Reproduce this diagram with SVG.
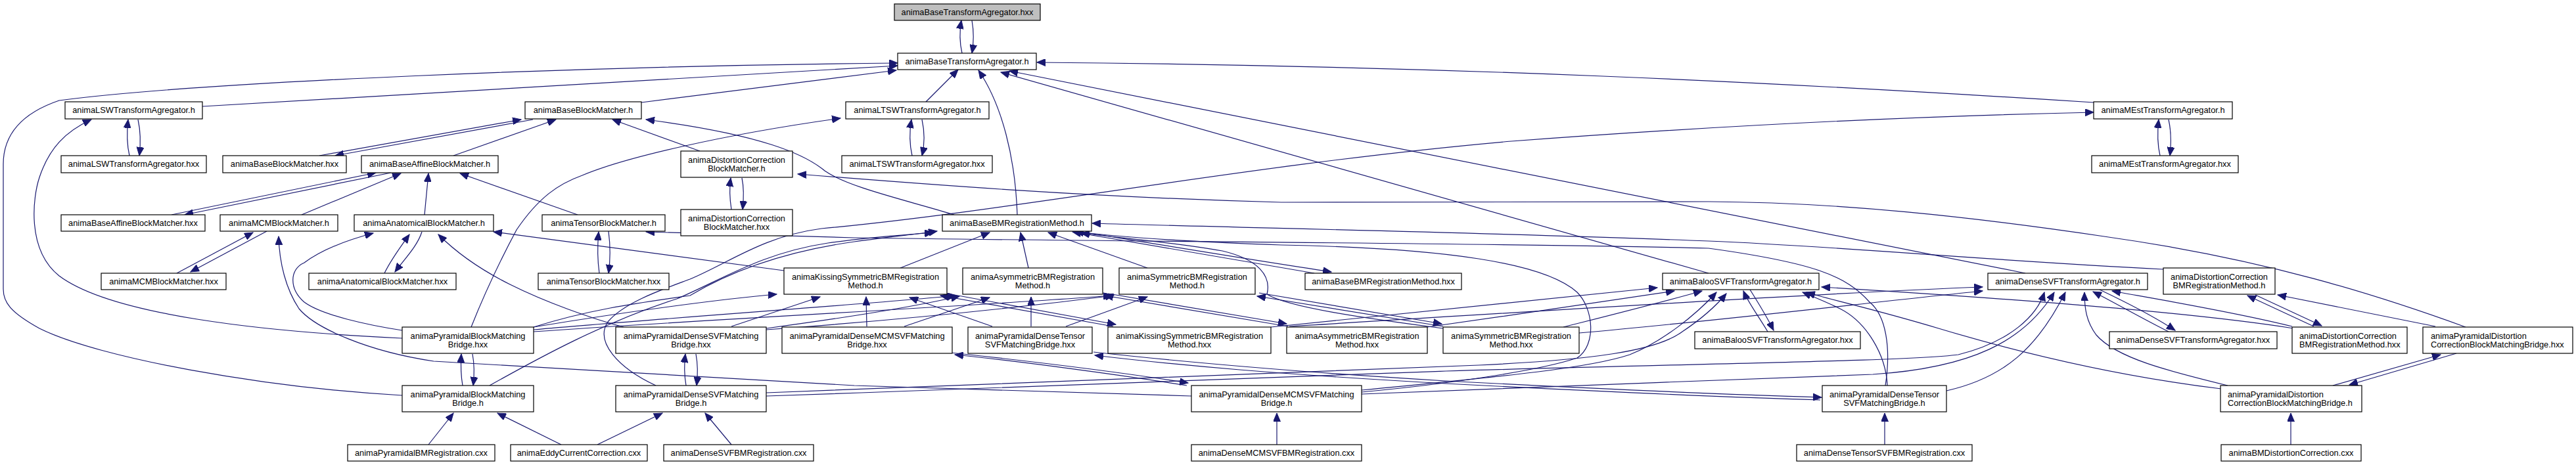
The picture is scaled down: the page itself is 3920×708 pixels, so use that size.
<svg xmlns="http://www.w3.org/2000/svg" width="3920" height="708" viewBox="0 0 3920 708">
<defs>
<marker id="ah" markerWidth="14" markerHeight="11" refX="13" refY="5.5" orient="auto" markerUnits="userSpaceOnUse"><path d="M0,0 L13,5.5 L0,11 z" fill="#191970" stroke="#191970" stroke-width="1"/></marker>
<style>
.e{fill:none;stroke:#191970;stroke-width:1.2;marker-end:url(#ah)}
.n rect{fill:#fff;stroke:#000;stroke-width:1.2}
.n text{font-family:"Liberation Sans",Arial,sans-serif;font-size:12.8px;fill:#000;text-anchor:middle}
.n.root rect{fill:#bfbfbf}
.n.l text{text-anchor:start}
</style>
</defs>
<rect width="3920" height="708" fill="#fff"/>
<g id="edges">
<path class="e" d="M1464,81 C1460,64 1460,48 1463,31"/>
<path class="e" d="M1479,31 C1482,48 1482,64 1479,81"/>
<path class="e" d="M308,162 L1366,100"/>
<path class="e" d="M976,156 L1364,107"/>
<path class="e" d="M1409,155 L1458,106"/>
<path class="e" d="M1548,327 C1545,240 1525,160 1489,107"/>
<path class="e" d="M3186,156 C2700,125 2200,100 1578,95"/>
<path class="e" d="M3082,416 L1536,108"/>
<path class="e" d="M2600,416 L1523,110"/>
<path class="e" d="M612,602 C400,590 150,545 60,500 C15,475 5,460 5,440 L5,250 C5,200 40,170 90,153 C300,125 900,100 1366,96"/>
<path class="e" d="M197,237 C193,220 193,200 195,182"/>
<path class="e" d="M210,182 C214,200 214,220 212,237"/>
<path class="e" d="M612,515 C400,505 170,480 90,420 C40,380 50,300 60,270 C75,225 100,200 139,182"/>
<path class="e" d="M1388,237 C1384,220 1384,200 1387,182"/>
<path class="e" d="M1403,182 C1407,200 1407,220 1403,237"/>
<path class="e" d="M3287,237 C3283,220 3283,200 3285,182"/>
<path class="e" d="M3300,182 C3304,200 3304,220 3302,237"/>
<path class="e" d="M486,237 L793,182"/>
<path class="e" d="M811,182 L510,237"/>
<path class="e" d="M261,327 L572,263"/>
<path class="e" d="M595,263 L281,327"/>
<path class="e" d="M459,327 L610,264"/>
<path class="e" d="M646,327 L652,264"/>
<path class="e" d="M690,237 L846,182"/>
<path class="e" d="M879,327 L700,264"/>
<path class="e" d="M1065,230 L932,182"/>
<path class="e" d="M1452,327 C1380,305 1290,285 1255,260 C1225,235 1160,205 983,182"/>
<path class="e" d="M1113,319 C1110,300 1110,285 1112,271"/>
<path class="e" d="M1129,271 C1132,285 1132,300 1130,319"/>
<path class="e" d="M3752,498 C3620,450 3450,395 3202,360 C3000,330 2800,308 2600,307 L1950,308 C1650,300 1400,280 1214,265"/>
<path class="e" d="M717,498 C740,440 770,380 786,350 C820,300 850,280 886,267 C950,240 1100,205 1279,180"/>
<path class="e" d="M998,587 C940,560 905,520 925,490 C950,460 1010,440 1050,425 C1110,400 1160,360 1250,348 C1550,320 1900,250 2300,215 C2700,185 3000,175 3186,171"/>
<path class="e" d="M585,416 C595,395 610,375 623,357"/>
<path class="e" d="M642,353 C635,375 615,395 601,414"/>
<path class="e" d="M269,416 L385,354"/>
<path class="e" d="M406,352 L290,414"/>
<path class="e" d="M1813,603 C1600,595 1400,590 1300,587 C1000,570 800,560 660,550 C560,535 480,500 455,470 C435,440 425,400 424,360"/>
<path class="e" d="M612,503 C560,495 490,480 463,460 C440,440 440,410 463,400 C490,380 530,365 568,355"/>
<path class="e" d="M912,416 C909,395 909,375 911,353"/>
<path class="e" d="M926,352 C929,375 929,395 926,416"/>
<path class="e" d="M949,498 C900,485 830,460 776,433 C730,410 695,385 667,357"/>
<path class="e" d="M1193,412 L751,353"/>
<path class="e" d="M2869,587 C2878,530 2870,480 2845,460 C2810,420 2760,400 2600,378 C2300,370 1700,368 1300,362 L983,353"/>
<path class="e" d="M2072,597 C2200,585 2340,565 2400,545 C2430,525 2425,470 2400,445 C2350,400 2200,378 1950,373 C1800,368 1700,360 1636,353"/>
<path class="e" d="M2196,500 C2080,485 1960,468 1928,448 C1935,420 1915,395 1860,382 C1780,368 1700,362 1645,355"/>
<path class="e" d="M1370,408 L1506,354"/>
<path class="e" d="M1565,408 L1553,354"/>
<path class="e" d="M1746,408 L1595,354"/>
<path class="e" d="M2000,416 C1850,390 1700,365 1632,353"/>
<path class="e" d="M1640,352 C1750,370 1900,395 2026,414"/>
<path class="e" d="M3292,410 C3000,395 2800,375 2600,367 C2300,355 1900,347 1662,340"/>
<path class="e" d="M812,498 C900,470 980,460 1050,450 C1100,420 1180,385 1300,368 C1360,360 1400,356 1426,352"/>
<path class="e" d="M745,587 C820,545 920,490 1030,455 C1100,425 1160,385 1260,370 C1330,360 1390,357 1420,354"/>
<path class="e" d="M1694,497 L1431,450"/>
<path class="e" d="M1436,446 L1698,494"/>
<path class="e" d="M1960,497 L1681,450"/>
<path class="e" d="M1686,447 L1958,493"/>
<path class="e" d="M2196,497 L1913,451"/>
<path class="e" d="M1916,446 L2194,493"/>
<path class="e" d="M812,498 C950,475 1100,455 1182,448"/>
<path class="e" d="M812,502 C1000,485 1300,465 1455,450"/>
<path class="e" d="M812,505 C1100,485 1500,465 1692,450"/>
<path class="e" d="M1113,497 L1248,452"/>
<path class="e" d="M1166,500 C1300,482 1400,465 1460,451"/>
<path class="e" d="M1166,502 C1400,485 1600,462 1695,450"/>
<path class="e" d="M1319,497 L1318,452"/>
<path class="e" d="M1376,497 L1506,453"/>
<path class="e" d="M1510,497 L1384,453"/>
<path class="e" d="M1569,497 L1569,452"/>
<path class="e" d="M1622,497 L1746,452"/>
<path class="e" d="M1806,587 C1700,570 1550,550 1453,540"/>
<path class="e" d="M1447,537 C1550,548 1700,566 1808,583"/>
<path class="e" d="M2770,609 C2600,604 2450,597 2200,584 C1950,570 1800,557 1666,541"/>
<path class="e" d="M1664,536 C1800,551 1950,565 2200,580 C2450,593 2600,600 2772,605"/>
<path class="e" d="M1044,587 C1041,570 1041,555 1043,539"/>
<path class="e" d="M1059,539 C1062,555 1062,570 1060,587"/>
<path class="e" d="M704,587 C701,570 701,555 702,539"/>
<path class="e" d="M719,539 C722,555 722,570 720,587"/>
<path class="e" d="M652,677 L690,629"/>
<path class="e" d="M854,677 L757,629"/>
<path class="e" d="M909,677 L1008,629"/>
<path class="e" d="M1113,677 L1073,629"/>
<path class="e" d="M1943,677 L1943,629"/>
<path class="e" d="M2868,677 L2868,629"/>
<path class="e" d="M3486,677 L3486,629"/>
<path class="e" d="M3550,587 L3714,540"/>
<path class="e" d="M3738,538 L3575,586"/>
<path class="e" d="M3521,497 L3420,450"/>
<path class="e" d="M3432,449 L3533,496"/>
<path class="e" d="M3706,497 L3466,449"/>
<path class="e" d="M2690,505 C2675,480 2660,460 2653,443"/>
<path class="e" d="M2663,441 C2675,460 2690,485 2699,503"/>
<path class="e" d="M3300,505 C3260,485 3220,462 3185,444"/>
<path class="e" d="M3195,441 C3235,460 3275,480 3310,503"/>
<path class="e" d="M3488,497 C3400,475 3280,455 3214,443"/>
<path class="e" d="M3490,500 C3300,470 2950,448 2772,437"/>
<path class="e" d="M3380,592 C3200,570 3050,530 2950,500 C2850,470 2780,455 2749,445"/>
<path class="e" d="M3390,587 C3300,565 3220,545 3190,510 C3175,490 3172,470 3172,445"/>
<path class="e" d="M2962,595 C3050,575 3100,530 3143,445"/>
<path class="e" d="M2872,587 C2870,540 2840,490 2800,470 C2780,460 2760,452 2743,445"/>
<path class="e" d="M1166,603 L1310,598 C1600,588 1900,575 2200,565 C2600,553 2900,550 2980,540 C3060,520 3100,480 3111,445"/>
<path class="e" d="M2072,600 C2300,590 2600,580 2850,570 C3000,560 3080,520 3126,445"/>
<path class="e" d="M2072,594 C2300,572 2420,560 2480,540 C2530,520 2580,480 2612,445"/>
<path class="e" d="M1166,598 C1600,583 2000,568 2250,556 C2420,548 2520,535 2560,505 C2590,485 2612,465 2627,447"/>
<path class="e" d="M1934,498 C2200,470 2400,450 2522,438"/>
<path class="e" d="M2172,498 C2300,480 2450,458 2548,443"/>
<path class="e" d="M2379,498 C2450,480 2530,460 2590,443"/>
<path class="e" d="M1962,497 C2400,470 2800,445 3017,437"/>
<path class="e" d="M2403,507 C2600,490 2850,460 3017,443"/>
</g>
<g id="n1" class="n root"><rect x="1361" y="6" width="222" height="25"/><text x="1472" y="22.5">animaBaseTransformAgregator.hxx</text></g>
<g id="n2" class="n"><rect x="1366" y="81" width="211" height="25"/><text x="1471.5" y="97.5">animaBaseTransformAgregator.h</text></g>
<g id="n3" class="n"><rect x="99" y="155" width="209" height="26"/><text x="203.5" y="172">animaLSWTransformAgregator.h</text></g>
<g id="n4" class="n"><rect x="799" y="155" width="177" height="26"/><text x="887.5" y="172">animaBaseBlockMatcher.h</text></g>
<g id="n5" class="n"><rect x="1287" y="155" width="218" height="26"/><text x="1396" y="172">animaLTSWTransformAgregator.h</text></g>
<g id="n6" class="n"><rect x="3186" y="155" width="211" height="26"/><text x="3291.5" y="172">animaMEstTransformAgregator.h</text></g>
<g id="n7" class="n"><rect x="93" y="237" width="221" height="26"/><text x="203.5" y="254">animaLSWTransformAgregator.hxx</text></g>
<g id="n8" class="n"><rect x="339" y="237" width="188" height="26"/><text x="433" y="254">animaBaseBlockMatcher.hxx</text></g>
<g id="n9" class="n"><rect x="550" y="237" width="208" height="26"/><text x="654" y="254">animaBaseAffineBlockMatcher.h</text></g>
<g id="n10" class="n"><rect x="1036" y="230" width="170" height="40"/><text x="1121" y="247.5">animaDistortionCorrection</text><text x="1121" y="261">BlockMatcher.h</text></g>
<g id="n11" class="n"><rect x="1281" y="237" width="229" height="26"/><text x="1395.5" y="254">animaLTSWTransformAgregator.hxx</text></g>
<g id="n12" class="n"><rect x="3183" y="237" width="223" height="26"/><text x="3294.5" y="254">animaMEstTransformAgregator.hxx</text></g>
<g id="n13" class="n"><rect x="93" y="327" width="219" height="25"/><text x="202.5" y="343.5">animaBaseAffineBlockMatcher.hxx</text></g>
<g id="n14" class="n"><rect x="335" y="327" width="179" height="25"/><text x="424.5" y="343.5">animaMCMBlockMatcher.h</text></g>
<g id="n15" class="n"><rect x="539" y="327" width="212" height="25"/><text x="645" y="343.5">animaAnatomicalBlockMatcher.h</text></g>
<g id="n16" class="n"><rect x="825" y="327" width="187" height="25"/><text x="918.5" y="343.5">animaTensorBlockMatcher.h</text></g>
<g id="n17" class="n"><rect x="1036" y="319" width="170" height="40"/><text x="1121" y="336.5">animaDistortionCorrection</text><text x="1121" y="350">BlockMatcher.hxx</text></g>
<g id="n18" class="n"><rect x="1434" y="327" width="227" height="25"/><text x="1547.5" y="343.5">animaBaseBMRegistrationMethod.h</text></g>
<g id="n19" class="n"><rect x="154" y="416" width="190" height="25"/><text x="249" y="432.5">animaMCMBlockMatcher.hxx</text></g>
<g id="n20" class="n"><rect x="470" y="416" width="224" height="25"/><text x="582" y="432.5">animaAnatomicalBlockMatcher.hxx</text></g>
<g id="n21" class="n"><rect x="819" y="416" width="199" height="25"/><text x="918.5" y="432.5">animaTensorBlockMatcher.hxx</text></g>
<g id="n22" class="n"><rect x="1193" y="408" width="248" height="40"/><text x="1317" y="425.5">animaKissingSymmetricBMRegistration</text><text x="1317" y="439">Method.h</text></g>
<g id="n23" class="n"><rect x="1465" y="408" width="213" height="40"/><text x="1571.5" y="425.5">animaAsymmetricBMRegistration</text><text x="1571.5" y="439">Method.h</text></g>
<g id="n24" class="n"><rect x="1703" y="408" width="207" height="40"/><text x="1806.5" y="425.5">animaSymmetricBMRegistration</text><text x="1806.5" y="439">Method.h</text></g>
<g id="n25" class="n"><rect x="1986" y="416" width="238" height="25"/><text x="2105" y="432.5">animaBaseBMRegistrationMethod.hxx</text></g>
<g id="n26" class="n"><rect x="2530" y="416" width="238" height="25"/><text x="2649" y="432.5">animaBalooSVFTransformAgregator.h</text></g>
<g id="n27" class="n"><rect x="3025" y="416" width="243" height="25"/><text x="3146.5" y="432.5">animaDenseSVFTransformAgregator.h</text></g>
<g id="n28" class="n"><rect x="3292" y="408" width="170" height="40"/><text x="3377" y="425.5">animaDistortionCorrection</text><text x="3377" y="439">BMRegistrationMethod.h</text></g>
<g id="n29" class="n"><rect x="612" y="498" width="200" height="40"/><text x="712" y="515.5">animaPyramidalBlockMatching</text><text x="712" y="529">Bridge.hxx</text></g>
<g id="n30" class="n"><rect x="937" y="498" width="229" height="40"/><text x="1051.5" y="515.5">animaPyramidalDenseSVFMatching</text><text x="1051.5" y="529">Bridge.hxx</text></g>
<g id="n31" class="n"><rect x="1190" y="498" width="259" height="40"/><text x="1319.5" y="515.5">animaPyramidalDenseMCMSVFMatching</text><text x="1319.5" y="529">Bridge.hxx</text></g>
<g id="n32" class="n"><rect x="1473" y="498" width="189" height="40"/><text x="1567.5" y="515.5">animaPyramidalDenseTensor</text><text x="1567.5" y="529">SVFMatchingBridge.hxx</text></g>
<g id="n33" class="n"><rect x="1686" y="498" width="248" height="40"/><text x="1810" y="515.5">animaKissingSymmetricBMRegistration</text><text x="1810" y="529">Method.hxx</text></g>
<g id="n34" class="n"><rect x="1958" y="498" width="214" height="40"/><text x="2065" y="515.5">animaAsymmetricBMRegistration</text><text x="2065" y="529">Method.hxx</text></g>
<g id="n35" class="n"><rect x="2196" y="498" width="207" height="40"/><text x="2299.5" y="515.5">animaSymmetricBMRegistration</text><text x="2299.5" y="529">Method.hxx</text></g>
<g id="n36" class="n"><rect x="2579" y="505" width="252" height="26"/><text x="2705" y="522">animaBalooSVFTransformAgregator.hxx</text></g>
<g id="n37" class="n"><rect x="3210" y="505" width="255" height="26"/><text x="3337.5" y="522">animaDenseSVFTransformAgregator.hxx</text></g>
<g id="n38" class="n l"><rect x="3488" y="498" width="175" height="40"/><text x="3499" y="515.5">animaDistortionCorrection</text><text x="3499" y="529">BMRegistrationMethod.hxx</text></g>
<g id="n39" class="n l"><rect x="3687" y="498" width="228" height="40"/><text x="3699" y="515.5">animaPyramidalDistortion</text><text x="3699" y="529">CorrectionBlockMatchingBridge.hxx</text></g>
<g id="n40" class="n"><rect x="612" y="587" width="200" height="40"/><text x="712" y="604.5">animaPyramidalBlockMatching</text><text x="712" y="618">Bridge.h</text></g>
<g id="n41" class="n"><rect x="937" y="587" width="229" height="40"/><text x="1051.5" y="604.5">animaPyramidalDenseSVFMatching</text><text x="1051.5" y="618">Bridge.h</text></g>
<g id="n42" class="n"><rect x="1813" y="587" width="259" height="40"/><text x="1942.5" y="604.5">animaPyramidalDenseMCMSVFMatching</text><text x="1942.5" y="618">Bridge.h</text></g>
<g id="n43" class="n"><rect x="2773" y="587" width="189" height="40"/><text x="2867.5" y="604.5">animaPyramidalDenseTensor</text><text x="2867.5" y="618">SVFMatchingBridge.h</text></g>
<g id="n44" class="n l"><rect x="3379" y="587" width="215" height="40"/><text x="3390" y="604.5">animaPyramidalDistortion</text><text x="3390" y="618">CorrectionBlockMatchingBridge.h</text></g>
<g id="n45" class="n"><rect x="529" y="677" width="224" height="25"/><text x="641" y="693.5">animaPyramidalBMRegistration.cxx</text></g>
<g id="n46" class="n"><rect x="777" y="677" width="208" height="25"/><text x="881" y="693.5">animaEddyCurrentCorrection.cxx</text></g>
<g id="n47" class="n"><rect x="1010" y="677" width="228" height="25"/><text x="1124" y="693.5">animaDenseSVFBMRegistration.cxx</text></g>
<g id="n48" class="n"><rect x="1813" y="677" width="259" height="25"/><text x="1942.5" y="693.5">animaDenseMCMSVFBMRegistration.cxx</text></g>
<g id="n49" class="n"><rect x="2734" y="677" width="267" height="25"/><text x="2867.5" y="693.5">animaDenseTensorSVFBMRegistration.cxx</text></g>
<g id="n50" class="n"><rect x="3380" y="677" width="213" height="25"/><text x="3486.5" y="693.5">animaBMDistortionCorrection.cxx</text></g>
</svg>
